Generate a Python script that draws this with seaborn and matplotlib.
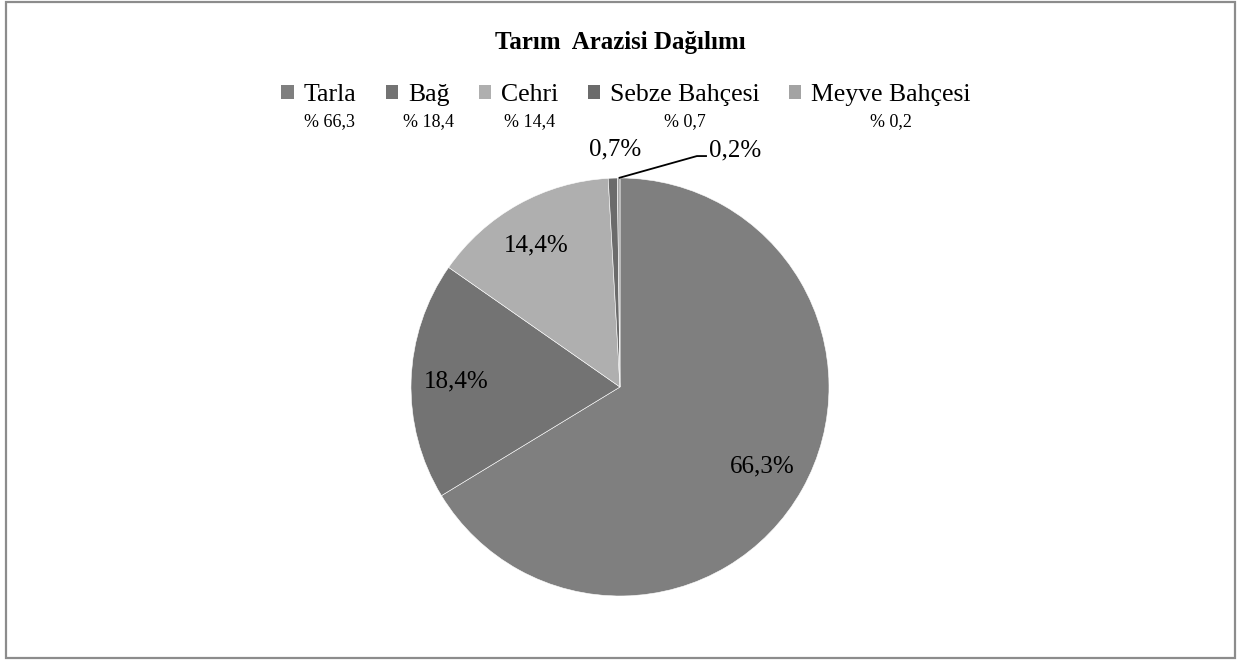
import matplotlib
matplotlib.use("Agg")
import numpy as np
import matplotlib.pyplot as plt
import seaborn as sns
from matplotlib.patches import Patch, Rectangle

# ---- data ----
categories = ["Tarla", "Bağ", "Cehri", "Sebze Bahçesi", "Meyve Bahçesi"]
shares = [66.3, 18.4, 14.4, 0.7, 0.2]
chart_title = "Tarım  Arazisi Dağılımı"

# ---- style ----
colors = ["#7f7f7f", "#737373", "#afafaf", "#6b6b6b", "#a3a3a3"]
sns.set_theme(style="white")
plt.rcParams['font.family'] = ['Liberation Serif', 'DejaVu Serif']
plt.rcParams['text.color'] = 'black'

W, H = 1248, 660
fig = plt.figure(figsize=(W / 100, H / 100), dpi=100)
fig.patch.set_facecolor("white")

cx, cy, R = 620, 387, 209
half = 260
ax = fig.add_axes([(cx - half) / W, (H - cy - half) / H, 2 * half / W, 2 * half / H])
wedges, _ = ax.pie(shares, colors=colors, startangle=90, counterclock=False,
                   radius=1, wedgeprops=dict(edgecolor="white", linewidth=0.4))
lim = half / R
ax.set_xlim(-lim, lim)
ax.set_ylim(-lim, lim)
ax.set_aspect("equal")
ax.axis("off")

def fmt_pct(v):
    return f"{v:.1f}%".replace(".", ",")

# data label placement (Excel "best fit" style)
label_r = [0.78, 0.785, 0.785, 1.135, None]
label_ang_override = [None, None, 120.6, 91.2, None]
for i, w in enumerate(wedges):
    mid = (w.theta1 + w.theta2) / 2
    if label_r[i] is not None:
        ang = label_ang_override[i] if label_ang_override[i] is not None else mid
        a = np.deg2rad(ang)
        ax.text(label_r[i] * np.cos(a), label_r[i] * np.sin(a), fmt_pct(shares[i]),
                ha="center", va="center", fontsize=18, color="black")
    else:
        a = np.deg2rad(mid)
        x0, y0 = np.cos(a), np.sin(a)
        ax.plot([x0, 0.368, 0.416], [y0, 1.105, 1.105], color="black", lw=1.3,
                solid_capstyle="butt", clip_on=False)
        ax.text(0.426, 1.134, fmt_pct(shares[i]), ha="left", va="center",
                fontsize=18, color="black")

# title
fig.text(620 / W, 1 - 42 / H, chart_title, ha="center", va="center",
         fontsize=18, fontweight="bold", color="black")

# legend
handles = [Patch(facecolor=c, edgecolor="none") for c in colors]
leg = fig.legend(handles, categories, loc="center", bbox_to_anchor=(626 / W, 1 - 95 / H),
                 ncol=5, frameon=False, fontsize=18.5, handlelength=0.48, handleheight=0.48,
                 handletextpad=0.38, columnspacing=1.15, borderpad=0, borderaxespad=0,
                 labelcolor="black")
fig.canvas.draw()
renderer = fig.canvas.get_renderer()
for t, v in zip(leg.get_texts(), shares):
    bb = t.get_window_extent(renderer)
    xc = (bb.x0 + bb.x1) / 2
    fig.text(xc / W, 1 - 122 / H, f"% {v:.1f}".replace(".", ","), ha="center",
             va="center", fontsize=13, color="black")

# outer border
fig.patches.append(Rectangle((6 / W, 2 / H), (1235 - 6) / W, (658.5 - 2) / H,
                             transform=fig.transFigure, fill=False,
                             edgecolor="#8c8c8c", linewidth=1.6))

fig.savefig("out.png", dpi=100, facecolor="white")
